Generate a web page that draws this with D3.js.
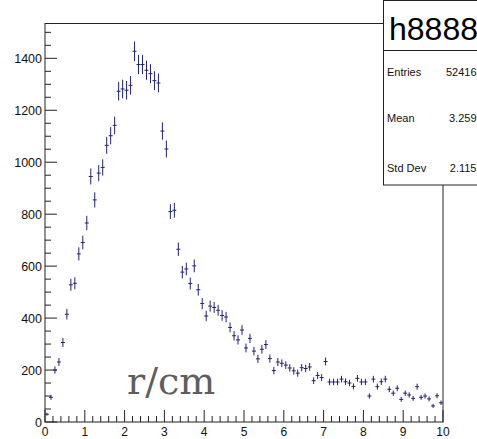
<!DOCTYPE html>
<html>
<head>
<meta charset="utf-8">
<script src="https://cdn.jsdelivr.net/npm/d3@7"></script>
<style>
  body { margin: 0; background: #fff; }
  svg { display: block; }
  text { font-family: "Liberation Sans", Arial, sans-serif; }
</style>
</head>
<body>
<div id="chart"></div>
<script>
// histogram h8888: 100 bins over r = 0..10 cm
const xRange = [0, 10];
const counts = [
  30, 95, 200, 231, 306, 415, 528, 534, 647, 691,
  766, 945, 855, 958, 980, 1065, 1102, 1142, 1273, 1282,
  1277, 1296, 1427, 1376, 1376, 1354, 1341, 1314, 1305, 1120,
  1051, 810, 815, 665, 577, 589, 533, 601, 509, 456,
  408, 446, 441, 430, 410, 404, 364, 332, 316, 354,
  285, 322, 273, 243, 280, 298, 244, 198, 231, 226,
  219, 208, 197, 188, 209, 206, 212, 159, 179, 171,
  233, 154, 154, 154, 165, 155, 150, 137, 168, 154,
  154, 100, 165, 136, 155, 165, 126, 111, 130, 87,
  111, 104, 91, 136, 95, 100, 89, 62, 101, 74
];
const xTickLabels = ["0", "1", "2", "3", "4", "5", "6", "7", "8", "9", "10"];
const yTickLabels = ["0", "200", "400", "600", "800", "1000", "1200", "1400"];
const histName = "h8888";
const statLabels = ["Entries", "Mean", "Std Dev"];
const statValues = ["52416", "3.259", "2.115"];
const axisTitle = "r/cm";

// frame of the pad
const frame = { left: 45, right: 443, top: 23.5, bottom: 422 };
const W = 477, H = 439;
const markColor = "#22226e";

const svg = d3.select("#chart").append("svg")
  .attr("width", W)
  .attr("height", H);

const x = d3.scaleLinear().domain(xRange).range([frame.left, frame.right]);
const y = d3.scaleLinear().domain([0, 1534]).range([frame.bottom, frame.top]);

const binW = (xRange[1] - xRange[0]) / counts.length;
const bins = counts.map((c, i) => ({
  lo: xRange[0] + i * binW,
  hi: xRange[0] + (i + 1) * binW,
  mid: xRange[0] + (i + 0.5) * binW,
  n: c,
  err: Math.sqrt(c)
}));

// frame box
svg.append("rect")
  .attr("x", frame.left).attr("y", frame.top)
  .attr("width", frame.right - frame.left)
  .attr("height", frame.bottom - frame.top)
  .attr("fill", "none").attr("stroke", "#222").attr("stroke-width", 1);

// y axis, ticks pointing inward
const yMajor = yTickLabels.map(Number);
const yMinor = d3.range(0, 1534, 50).filter(v => v % 200 !== 0);
const yAxis = svg.append("g").attr("stroke", "#222");
yAxis.selectAll(".ymaj").data(yMajor).join("line")
  .attr("x1", frame.left).attr("x2", frame.left + 12)
  .attr("y1", d => y(d)).attr("y2", d => y(d));
yAxis.selectAll(".ymin").data(yMinor).join("line")
  .attr("x1", frame.left).attr("x2", frame.left + 6)
  .attr("y1", d => y(d)).attr("y2", d => y(d));
svg.selectAll(".ylab").data(yTickLabels).join("text")
  .attr("x", frame.left - 3)
  .attr("y", d => y(+d))
  .attr("dy", "0.36em")
  .attr("text-anchor", "end")
  .attr("font-size", 12.5)
  .attr("fill", "#111")
  .text(d => d);

// x axis, ticks pointing inward
const xMajor = xTickLabels.map(Number);
const xMinor = d3.range(0, 10.001, 0.2).filter(v => Math.abs(v - Math.round(v)) > 1e-6);
const xAxis = svg.append("g").attr("stroke", "#222");
xAxis.selectAll(".xmaj").data(xMajor).join("line")
  .attr("x1", d => x(d)).attr("x2", d => x(d))
  .attr("y1", frame.bottom).attr("y2", frame.bottom - 12);
xAxis.selectAll(".xmin").data(xMinor).join("line")
  .attr("x1", d => x(d)).attr("x2", d => x(d))
  .attr("y1", frame.bottom).attr("y2", frame.bottom - 6);
svg.selectAll(".xlab").data(xTickLabels).join("text")
  .attr("x", d => x(+d))
  .attr("y", 435.5)
  .attr("text-anchor", "middle")
  .attr("font-size", 12)
  .attr("fill", "#111")
  .text(d => d);

// data points with errors
const pts = svg.append("g").attr("stroke", markColor).attr("stroke-width", 1);
pts.selectAll(".ex").data(bins).join("line")
  .attr("x1", d => x(d.lo)).attr("x2", d => x(d.hi))
  .attr("y1", d => y(d.n)).attr("y2", d => y(d.n));
pts.selectAll(".ey").data(bins).join("line")
  .attr("x1", d => x(d.mid)).attr("x2", d => x(d.mid))
  .attr("y1", d => y(d.n - d.err)).attr("y2", d => y(Math.min(d.n + d.err, 1534)));

// axis title drawn inside the pad
svg.append("text")
  .attr("x", 127).attr("y", 394)
  .style("font-family", "'DejaVu Serif', 'Liberation Serif', serif")
  .attr("font-size", 38)
  .attr("fill", "#5e5e5e")
  .text(axisTitle);

// stats box
const box = svg.append("g");
box.append("rect")
  .attr("x", 383.5).attr("y", 0.5)
  .attr("width", 100).attr("height", 184.5)
  .attr("fill", "#fff").attr("stroke", "#222");
box.append("line")
  .attr("x1", 383.5).attr("x2", 483)
  .attr("y1", 50.5).attr("y2", 50.5)
  .attr("stroke", "#222");
box.append("text")
  .attr("x", 389).attr("y", 40)
  .attr("font-size", 32)
  .attr("fill", "#000")
  .text(histName);
const rowY = [72.5, 118.5, 168];
box.selectAll(".slab").data(statLabels).join("text")
  .attr("x", 387).attr("y", (d, i) => rowY[i])
  .attr("dy", "0.36em")
  .attr("font-size", 11)
  .attr("fill", "#111")
  .text(d => d);
box.selectAll(".sval").data(statValues).join("text")
  .attr("x", 476.5).attr("y", (d, i) => rowY[i])
  .attr("dy", "0.36em")
  .attr("text-anchor", "end")
  .attr("font-size", 11)
  .attr("fill", "#111")
  .text(d => d);
</script>
</body>
</html>
